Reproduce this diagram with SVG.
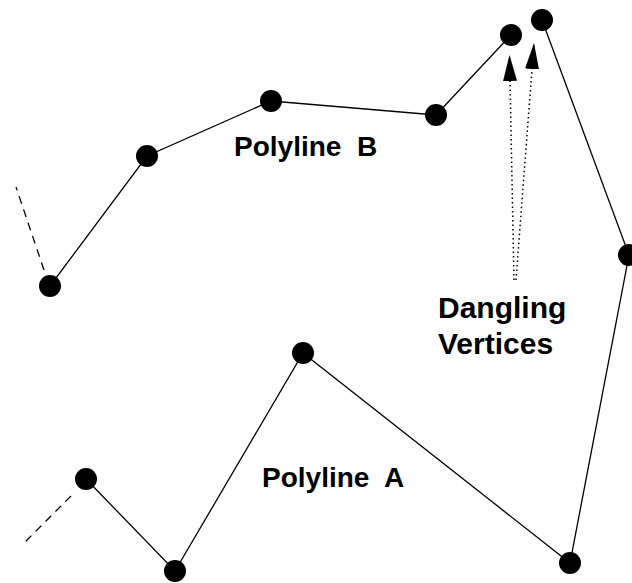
<svg xmlns="http://www.w3.org/2000/svg" width="632" height="583" viewBox="0 0 632 583">
<style>
.edge{fill:none;stroke:#000;stroke-width:1.3}
.dash{fill:none;stroke:#000;stroke-width:1.3;stroke-dasharray:8 6}
.dot{fill:none;stroke:#000;stroke-width:1.5;stroke-dasharray:1.5 3}
.v{fill:#000}
.lbl{font-family:"Liberation Sans",Arial,sans-serif;font-weight:bold;font-size:28px;fill:#000}
.big{font-size:30px}
</style>
<defs>
<marker id="ah" markerUnits="userSpaceOnUse" markerWidth="28" markerHeight="16" refX="26" refY="7" orient="auto"><path d="M0,0 L26,7 L0,14 Z" fill="#000"/></marker>
</defs>
<rect width="632" height="583" fill="#fff"/>
<g id="connectors">
<polyline class="edge" points="50,286 147,156 271,101 436,115 511,35"/>
<polyline class="edge" points="542,20 629,255 570,563 303,353 175,571 86,479"/>
<line class="dash" x1="44" y1="270" x2="16" y2="187"/>
<line class="dash" x1="71" y1="496" x2="22" y2="545"/>
<line class="dot" x1="514" y1="280" x2="509.5" y2="55" marker-end="url(#ah)"/>
<line class="dot" x1="516" y1="280" x2="534" y2="43" marker-end="url(#ah)"/>
</g>
<g id="polylineB">
<circle class="v" cx="50" cy="286" r="11"/>
<circle class="v" cx="147" cy="156" r="11"/>
<circle class="v" cx="271" cy="101" r="11"/>
<circle class="v" cx="436" cy="115" r="11"/>
<circle class="v" cx="511" cy="35" r="11"/>
<text class="lbl" x="234" y="156" xml:space="preserve">Polyline  B</text>
</g>
<g id="polylineA">
<circle class="v" cx="542" cy="20" r="11"/>
<circle class="v" cx="629" cy="255" r="11"/>
<circle class="v" cx="570" cy="563" r="11"/>
<circle class="v" cx="303" cy="353" r="11"/>
<circle class="v" cx="175" cy="571" r="11"/>
<circle class="v" cx="86" cy="479" r="11"/>
<text class="lbl" x="262" y="487" xml:space="preserve">Polyline  A</text>
</g>
<g id="dangling">
<text class="lbl big" x="438" y="318">Dangling</text>
<text class="lbl big" x="438" y="354">Vertices</text>
</g>
</svg>
